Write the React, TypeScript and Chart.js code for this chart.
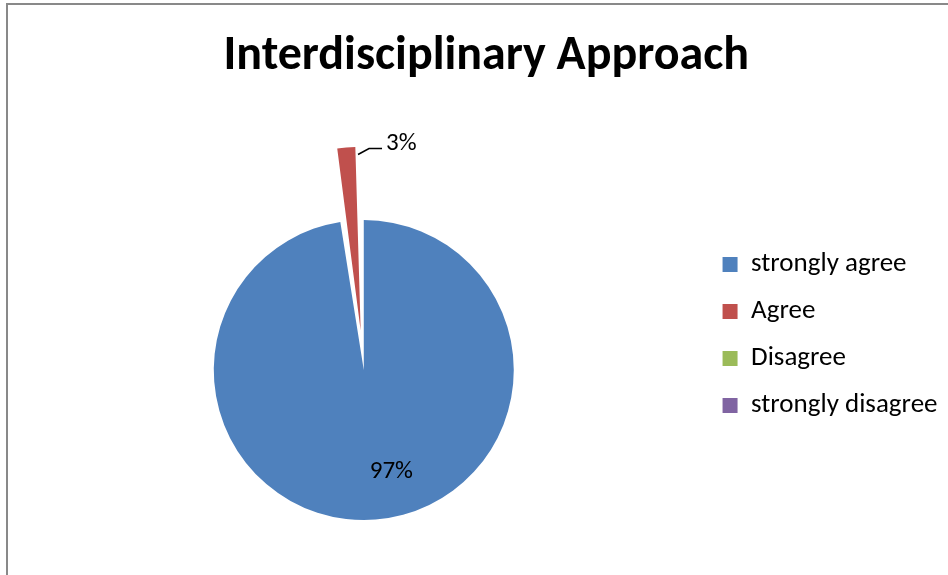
import React, { useEffect, useRef } from "react";
import { Chart, registerables } from "chart.js";

Chart.register(...registerables);

const TITLE = "Interdisciplinary Approach";
const categories = ["strongly agree", "Agree", "Disagree", "strongly disagree"];
const values = [39, 1, 0, 0];
const percentLabels = ["97%", "3%", "", ""];
const colors = ["#4F81BD", "#C0504D", "#9BBB59", "#8064A2"];
const explode = [0, 159, 0, 0];

const FONT = "Carlito, Calibri, 'Open Sans', sans-serif";

const framePlugin = {
  id: "frame",
  beforeDraw(chart: any) {
    const { ctx, width, height } = chart;
    ctx.save();
    ctx.fillStyle = "#ffffff";
    ctx.fillRect(0, 0, width, height);
    ctx.strokeStyle = "#898989";
    ctx.lineWidth = 2;
    ctx.beginPath();
    ctx.moveTo(7, height);
    ctx.lineTo(7, 4);
    ctx.lineTo(width, 4);
    ctx.stroke();
    ctx.restore();
  },
};

const labelPlugin = {
  id: "pieLabels",
  afterDatasetsDraw(chart: any) {
    const meta = chart.getDatasetMeta(0);
    const ctx = chart.ctx;
    meta.data.forEach((arc: any, i: number) => {
      const txt = percentLabels[i];
      if (!txt || !values[i]) return;
      const { x, y, startAngle, endAngle, outerRadius, circumference } = arc.getProps(
        ["x", "y", "startAngle", "endAngle", "outerRadius", "circumference"],
        true
      );
      const off = (arc.options.offset || 0) / 4;
      const fix = 1 - Math.sin(Math.min(Math.PI, circumference || 0));
      const t = off * (1 + fix);
      const mid = (startAngle + endAngle) / 2;
      const cx = x + Math.cos(mid) * t;
      const cy = y + Math.sin(mid) * t;
      ctx.save();
      ctx.font = `25px ${FONT}`;
      ctx.fillStyle = "#000000";
      if (t > 0) {
        const sx = cx + Math.cos(endAngle) * outerRadius * 0.95;
        const sy = cy + Math.sin(endAngle) * outerRadius * 0.95;
        const ex = sx + 11;
        const ey = sy - 6;
        const hx = ex + 13;
        ctx.strokeStyle = "#000000";
        ctx.lineWidth = 1.5;
        ctx.beginPath();
        ctx.moveTo(sx, sy);
        ctx.lineTo(ex, ey);
        ctx.lineTo(hx, ey);
        ctx.stroke();
        ctx.textAlign = "left";
        ctx.textBaseline = "middle";
        ctx.fillText(txt, hx + 4, ey - 5);
      } else {
        ctx.textAlign = "left";
        ctx.textBaseline = "middle";
        const r = outerRadius * 0.68;
        ctx.fillText(txt, cx + Math.cos(mid) * r - 2, cy + Math.sin(mid) * r);
      }
      ctx.restore();
    });
  },
};

export default function App() {
  const ref = useRef<HTMLCanvasElement | null>(null);
  useEffect(() => {
    if (!ref.current) return;
    const chart = new Chart(ref.current, {
      type: "pie",
      data: {
        labels: categories,
        datasets: [
          {
            data: values,
            backgroundColor: colors,
            borderWidth: 0,
            offset: explode,
            radius: 150,
          } as any,
        ],
      },
      options: {
        animation: false,
        responsive: false,
        layout: { padding: { left: 25, right: 0.5, top: 0, bottom: 66 } },
        plugins: {
          title: {
            display: true,
            text: TITLE,
            color: "#000000",
            font: { family: FONT, size: 48, weight: "bold", lineHeight: 1.2 },
            padding: { top: 28.5, bottom: 145 },
          },
          legend: {
            position: "right",
            align: "start",
            fullSize: false,
            labels: {
              boxWidth: 15,
              boxHeight: 15,
              padding: 20,
              color: "#000000",
              font: { family: FONT, size: 27 },
            },
          },
          tooltip: { enabled: false },
        },
      } as any,
      plugins: [framePlugin, labelPlugin],
    });
    return () => chart.destroy();
  }, []);
  return (
    <div style={{ position: "fixed", left: 0, top: 0, width: 948, height: 575 }}>
      <canvas ref={ref} width={948} height={575} style={{ display: "block" }} />
    </div>
  );
}
